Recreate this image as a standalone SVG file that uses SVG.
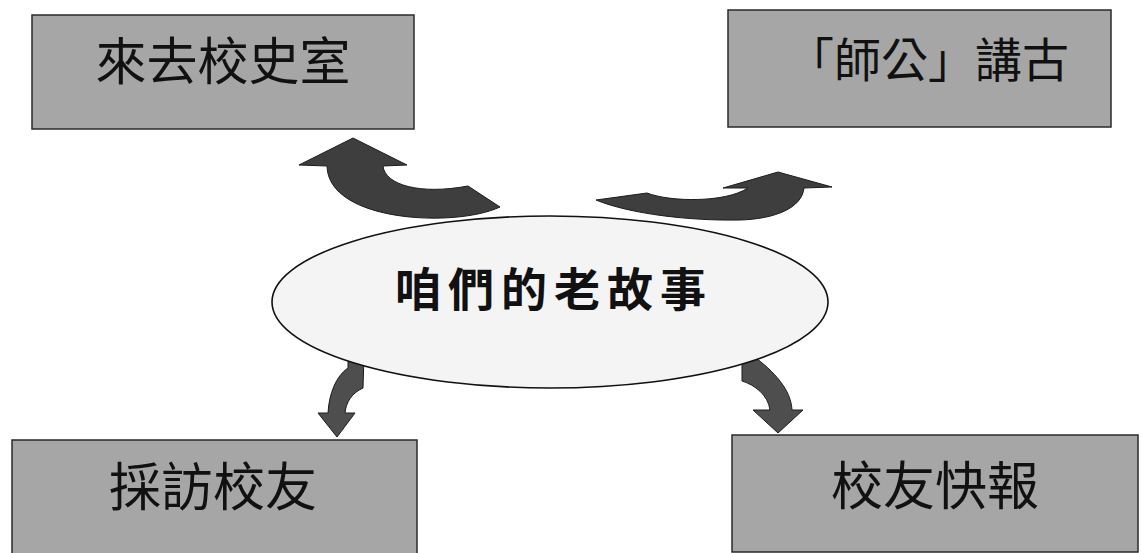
<svg xmlns="http://www.w3.org/2000/svg" width="1141" height="553" viewBox="0 0 1141 553">
  <style>
    .box { fill: #a6a6a6; stroke: #2a2a2a; stroke-width: 1.5; }
    .lbl { font-family: "Noto Sans CJK TC", "Noto Sans CJK SC", sans-serif; fill: #111; text-anchor: middle; }
    .arrow { fill: #3e3e3e; stroke: #1c1c1c; stroke-width: 1; stroke-linejoin: miter; }
    .arrow-low { fill: #4e4e4e; }
    .hub { fill: #f4f4f4; stroke: #111; stroke-width: 1.6; }
    .title { font-family: "Noto Sans CJK TC", "Noto Sans CJK SC", sans-serif; font-weight: bold; fill: #111; }
  </style>
  <rect width="1141" height="553" fill="#ffffff"/>

  <g id="node-xiaoshishi">
    <rect class="box" x="32" y="15" width="382" height="114"/>
    <text class="lbl" x="223" y="80" font-size="51">來去校史室</text>
  </g>
  <g id="node-shigong">
    <rect class="box" x="728" y="10" width="383" height="117"/>
    <text class="lbl" x="928" y="77" font-size="47">「師公」講古</text>
  </g>
  <g id="node-caifang">
    <rect class="box" x="12" y="440" width="405" height="116"/>
    <text class="lbl" x="213" y="506" font-size="52">採訪校友</text>
  </g>
  <g id="node-kuaibao">
    <rect class="box" x="732" y="435" width="406" height="117"/>
    <text class="lbl" x="935" y="505" font-size="52">校友快報</text>
  </g>

  <g id="connectors">
    <path class="arrow" d="M 353,138 L 407,165 L 383,166 C 385,185 420,195 468,186 L 500,207 C 455,228 328,222 327,166 L 299,165 Z"/>
    <path class="arrow" d="M 778,172 L 832,187 L 804,188 C 802,208 775,219 740,220 C 690,221 630,214 596,200 L 647,193 C 670,202 725,203 748,188 L 723,188 Z"/>
    <path class="arrow arrow-low" d="M 348,355 L 364,355 L 363,388 C 352,393 346,402 345,413 L 355,413 L 337,437 L 318,413 L 328,413 C 329,394 336,376 348,368 Z"/>
    <path class="arrow arrow-low" d="M 742,352 L 742,381 C 755,385 768,395 770,410 L 753,410 L 778,433 L 803,410 L 792,410 C 791,390 775,372 752,355 Z"/>
  </g>

  <g id="node-center">
    <ellipse class="hub" cx="550" cy="302" rx="278" ry="86"/>
    <text class="title" x="395" y="306" font-size="46" letter-spacing="7">咱們的老故事</text>
  </g>
</svg>
